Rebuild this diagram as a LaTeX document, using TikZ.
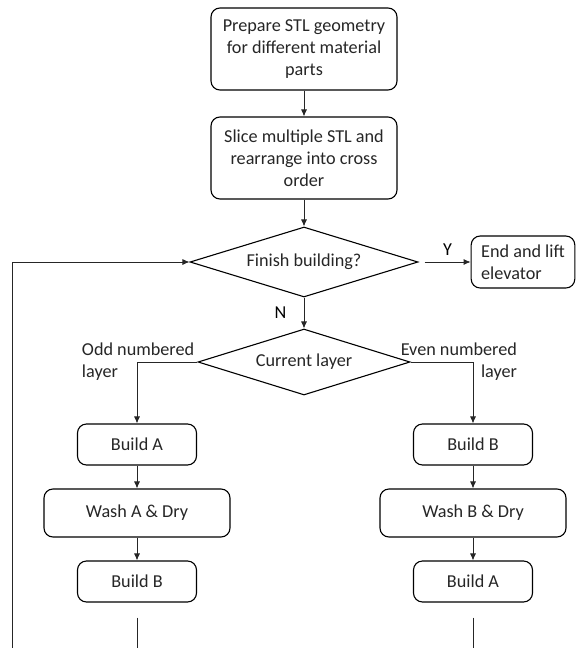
\documentclass[tikz,border=0pt]{standalone}
\usepackage{fontspec}
\setmainfont{Carlito}
\usepackage{tikz}
\usetikzlibrary{positioning,shapes.geometric,arrows.meta}

\tikzset{
  proc/.style={draw, line width=1.1pt, rounded corners=9pt, align=center, text=black!85},
  decide/.style={draw, diamond, line width=1.1pt, aspect=3.2, inner sep=0pt, text=black!85},
  note/.style={inner sep=0pt, text=black!85},
  link/.style={line width=0.8pt, draw=black!85}
}

\begin{document}
\begin{tikzpicture}[x=1pt, y=-1pt, on grid, font=\fontsize{18.2}{22}\selectfont,
  >={Latex[length=7pt,width=6pt]}]
\useasboundingbox (0,0) rectangle (576,648);
%nodes

\node[proc, minimum width=186pt, minimum height=82pt] (prep) at (304,49)
  {Prepare STL geometry\\for different material\\parts};
\node[proc, minimum width=186pt, minimum height=82pt] (slice) [below=109pt of prep]
  {Slice multiple STL and\\rearrange into cross\\order};
\node[decide, minimum width=228pt, minimum height=70pt] (finish) [below=104pt of slice] {Finish building?};
\node[proc, align=left, minimum width=102pt, minimum height=52pt, inner xsep=10pt] (endlift) [right=219pt of finish]
  {End and lift\\elevator};
\node[decide, minimum width=212pt, minimum height=66pt] (layer) [below=100pt of finish] {Current layer};

\node[proc, minimum width=119pt, minimum height=41pt] (oddA) [below left=82.5pt and 167pt of layer] {Build A};
\node[proc, minimum width=186pt, minimum height=48pt] (oddWash) [below=68.5pt of oddA] {Wash A \& Dry};
\node[proc, minimum width=119pt, minimum height=41pt] (oddB) [below=68.5pt of oddWash] {Build B};

\node[proc, minimum width=119pt, minimum height=41pt] (evenB) [below right=82.5pt and 169pt of layer] {Build B};
\node[proc, minimum width=186pt, minimum height=48pt] (evenWash) [below=68.5pt of evenB] {Wash B \& Dry};
\node[proc, minimum width=119pt, minimum height=41pt] (evenA) [below=68.5pt of evenWash] {Build A};

\node[note, align=left, anchor=east] (oddnote) at ([xshift=-3pt]layer.west) {Odd numbered\\layer};
\node[note, align=right, anchor=west] (evennote) at ([xshift=-10pt]layer.east) {Even numbered\\layer};

\coordinate (oddCut) at ([yshift=-15pt]oddB.south);
\coordinate (oddEnd) at (oddB.south |- 0,648);
\coordinate (evenCut) at ([yshift=-15pt]evenA.south);
\coordinate (evenEnd) at (evenA.south |- 0,648);
\coordinate (loopEnd) at (12,648);

%links
\draw[link, ->] (prep) -- (slice);
\draw[link, ->] (slice) -- (finish);
\draw[link, ->] ([xshift=6pt]finish.east) -- node[above=3pt] {Y} (endlift.west);
\draw[link, ->] (finish) -- node[left=14pt] {N} (layer);
\draw[link, ->] (layer.west) -| (oddA.north);
\draw[link, ->] (layer.east) -| (evenB.north);
\draw[link, ->] (oddA) -- (oddWash);
\draw[link, ->] (oddWash) -- (oddB);
\draw[link, ->] (evenB) -- (evenWash);
\draw[link, ->] (evenWash) -- (evenA);
\draw[link] (oddCut) -- (oddEnd);
\draw[link] (evenCut) -- (evenEnd);
\draw[link, ->] (loopEnd) |- (finish.west);
\end{tikzpicture}
\end{document}
